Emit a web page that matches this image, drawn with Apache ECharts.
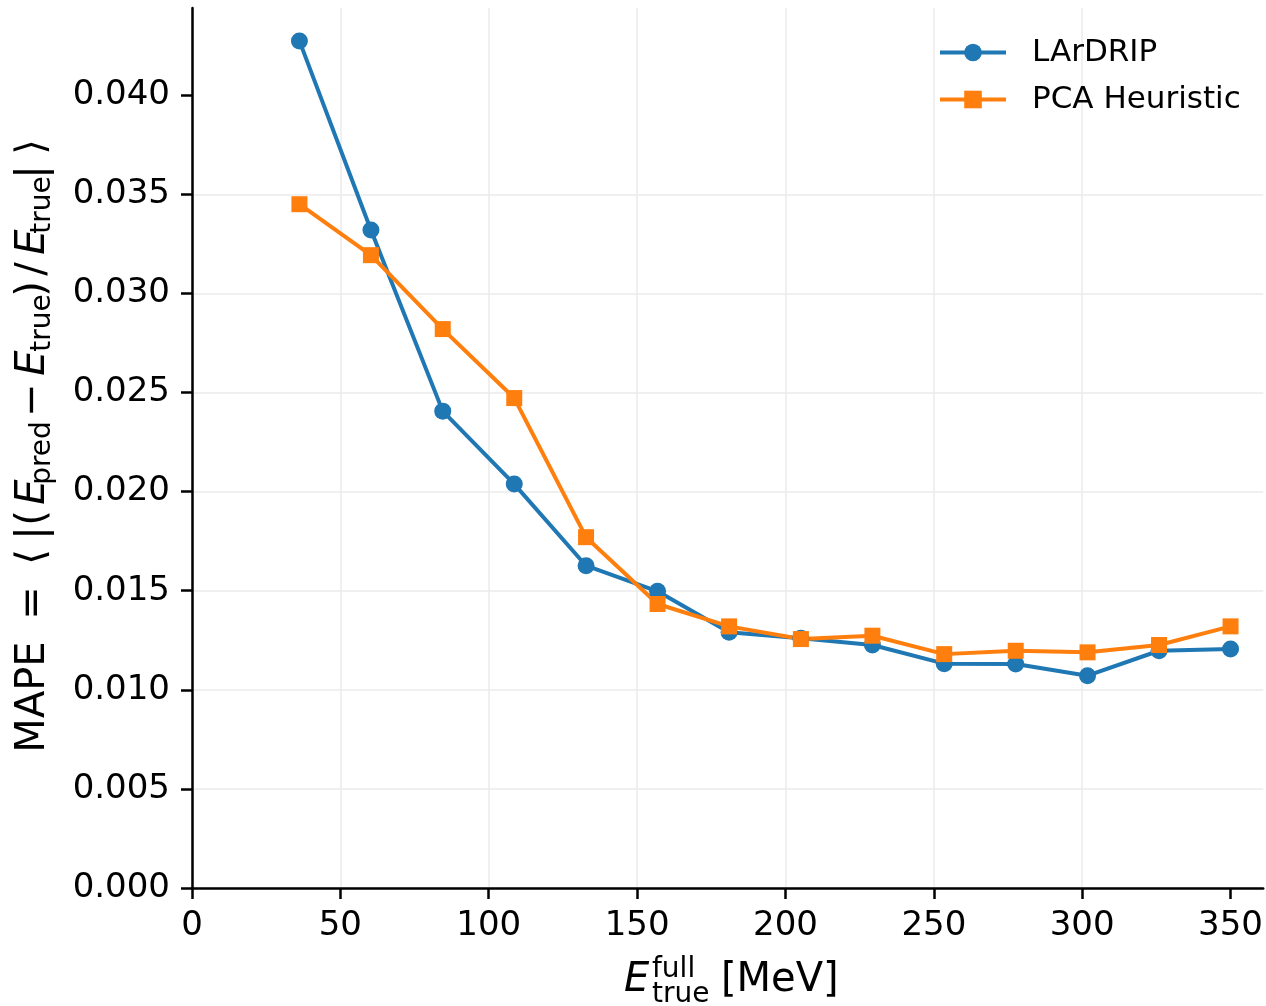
<!DOCTYPE html>
<html>
<head>
<meta charset="utf-8">
<script src="https://cdn.jsdelivr.net/npm/echarts@6/dist/echarts.min.js"></script>
<style>html,body{margin:0;padding:0;background:#fff}#c{width:1266px;height:1006px}</style>
</head>
<body>
<div id="c"></div>
<script>
const energies = [36.2, 60.3, 84.5, 108.6, 132.8, 156.9, 181.0, 205.2, 229.3, 253.5, 277.6, 301.8, 325.9, 350.0];
const lardrip = [0.04274, 0.03320, 0.02406, 0.02038, 0.01626, 0.01497, 0.01290, 0.01260, 0.01226, 0.01132, 0.01130, 0.01071, 0.01197, 0.01206];
const pcaHeuristic = [0.03450, 0.03193, 0.02820, 0.02472, 0.01770, 0.01433, 0.01320, 0.01256, 0.01273, 0.01180, 0.01197, 0.01189, 0.01226, 0.01320];
const seriesNames = ['LArDRIP', 'PCA Heuristic'];
const xTicks = [0, 50, 100, 150, 200, 250, 300, 350];
const yTicks = [0.000, 0.005, 0.010, 0.015, 0.020, 0.025, 0.030, 0.035, 0.040];

const FONT = '"DejaVu Sans", sans-serif';
const chart = echarts.init(document.getElementById('c'), null, {renderer: 'canvas'});
const pairs = (ys) => energies.map((x, i) => [x, ys[i]]);

// y-axis title pieces: [text, position along the rotated baseline, kind]
const yTitlePieces = [
  ['MAPE', 56, 'n'], ['=', 150, 'n'], ['⟨', 196, 'n'], ['|', 220, 'n'], ['(', 235, 'n'],
  ['E', 261, 'i'], ['pred', 300, 's'], ['−', 353, 'n'],
  ['E', 390, 'i'], ['true', 430, 's'], [')', 464, 'n'], ['/', 484, 'n'],
  ['E', 511, 'i'], ['true', 548, 's'], ['|', 581, 'n'], ['⟩', 606, 'n']
];
const yTitleChildren = yTitlePieces.map(([t, px, k]) => ({
  type: 'text', x: px, y: k === 's' ? 9 : 0,
  style: {
    text: t, align: 'center', verticalAlign: 'middle', fill: '#000',
    fontFamily: FONT, fontSize: k === 's' ? 28 : 40,
    fontStyle: k === 'i' ? 'italic' : 'normal'
  }
}));

chart.setOption({
  animation: false,
  backgroundColor: '#ffffff',
  grid: {left: 192, right: 0, top: 8, bottom: 118, containLabel: false},
  xAxis: {
    type: 'value', min: 0, max: 361, interval: 50,
    axisLine: {show: true, onZero: false, lineStyle: {color: '#000', width: 2.5}},
    axisTick: {show: true, length: 11, customValues: xTicks, lineStyle: {color: '#000', width: 2.5}},
    axisLabel: {color: '#000', fontSize: 34, fontFamily: FONT, margin: 21, customValues: xTicks,
      formatter: (v) => String(v)},
    splitLine: {show: true, showMaxLine: false, lineStyle: {color: '#ebebeb', width: 1.5}}
  },
  yAxis: {
    type: 'value', min: 0, max: 0.0444, interval: 0.005,
    axisLine: {show: true, lineStyle: {color: '#000', width: 2.5}},
    axisTick: {show: true, length: 11, customValues: yTicks, lineStyle: {color: '#000', width: 2.5}},
    axisLabel: {color: '#000', fontSize: 34, fontFamily: FONT, margin: 22, customValues: yTicks,
      formatter: (v) => Number(v).toFixed(3)},
    splitLine: {show: true, showMaxLine: false, lineStyle: {color: '#ebebeb', width: 1.5}}
  },
  legend: {
    left: 933, top: 32, orient: 'vertical',
    itemWidth: 66, itemHeight: 22, itemGap: 16,
    lineStyle: {width: 4},
    textStyle: {fontSize: 31, fontFamily: FONT, color: '#000', lineHeight: 31, padding: [0, 0, 0, 21]},
    data: seriesNames
  },
  series: [
    {name: seriesNames[0], type: 'line', data: pairs(lardrip),
      symbol: 'circle', symbolSize: 17,
      lineStyle: {color: '#1f77b4', width: 4}, itemStyle: {color: '#1f77b4'}},
    {name: seriesNames[1], type: 'line', data: pairs(pcaHeuristic),
      symbol: 'rect', symbolSize: 16,
      lineStyle: {color: '#ff7f0e', width: 4}, itemStyle: {color: '#ff7f0e'}}
  ],
  graphic: [
    {type: 'group', x: 34, y: 753, rotation: Math.PI / 2, silent: true, children: yTitleChildren},
    {type: 'text', x: 624, y: 981, silent: true,
      style: {text: 'E', fontSize: 40, fontStyle: 'italic', fontFamily: FONT, fill: '#000', verticalAlign: 'middle'}},
    {type: 'text', x: 652, y: 970, silent: true,
      style: {text: 'full', fontSize: 28, fontFamily: FONT, fill: '#000', verticalAlign: 'middle'}},
    {type: 'text', x: 652, y: 995, silent: true,
      style: {text: 'true', fontSize: 28, fontFamily: FONT, fill: '#000', verticalAlign: 'middle'}},
    {type: 'text', x: 721, y: 981, silent: true,
      style: {text: '[MeV]', fontSize: 40, fontFamily: FONT, fill: '#000', verticalAlign: 'middle'}}
  ]
});
</script>
</body>
</html>
